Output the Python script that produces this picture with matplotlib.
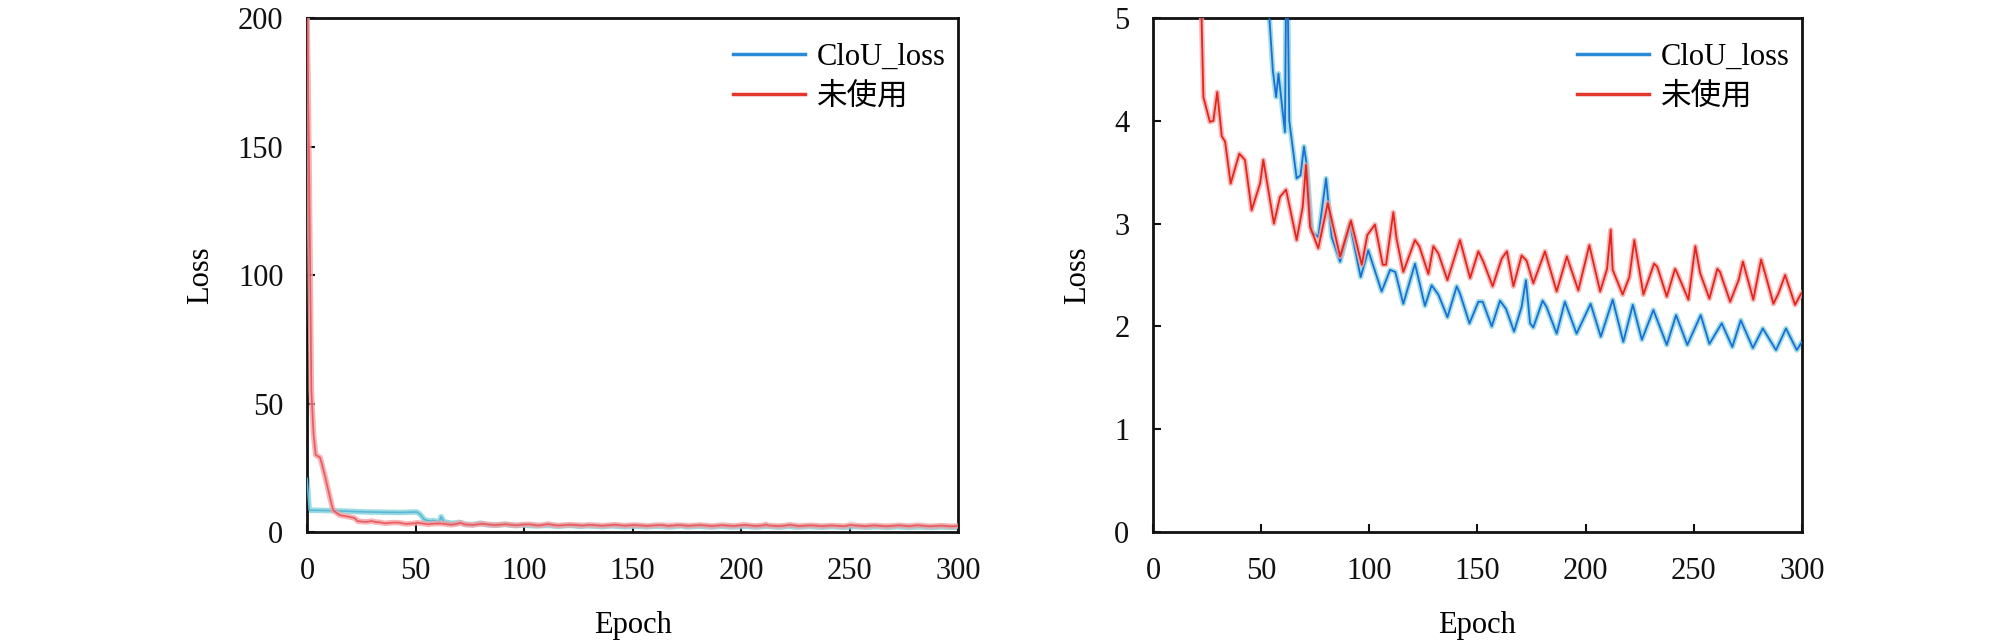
import matplotlib
matplotlib.use("Agg")
import matplotlib.pyplot as plt
from matplotlib.lines import Line2D

plt.rcParams['font.family'] = ['Liberation Serif', 'Noto Sans CJK SC', 'DejaVu Sans']

# ---- data ----
red_epoch = [0, 1, 2, 3, 4, 6, 7, 8.5, 10.5, 12, 15, 19.5, 22, 23.3, 26.3, 27.9, 29.7, 31.8,
             33.3, 35.9, 39.9, 42.5, 45.6, 49.5, 51, 55.9, 58.7, 61.5, 66.4, 69.2, 70.7, 72.6,
             76.4, 80.8, 86.5, 91.5, 96.5, 99.1, 102.6, 106.2, 107.7, 111.1, 112.6, 115.7,
             121.1, 123.1, 127.3, 129.6, 131.9, 136.1, 141.9, 146.6, 150.4, 152.7, 157.0,
             161.2, 163.6, 166.6, 170.4, 172.7, 175.8, 181.2, 186.6, 191.3, 196.6, 201.7,
             206.7, 209.9, 211.6, 212.5, 217.1, 220.2, 222.5, 226.7, 231.6, 233.1, 237.5,
             241.3, 242.1, 247.5, 250.7, 252.9, 257.2, 260.9, 262.1, 266.8, 270.7, 272.7,
             277.5, 281.1, 282.9, 286.8, 289.1, 292.2, 296.8, 299.1, 300]
red_loss = [205, 140, 55, 38, 30, 29, 26, 21, 13.7, 8.5, 6.6, 5.9, 5.4, 4.23, 3.99, 4.0, 4.28, 3.85,
            3.80, 3.39, 3.68, 3.62, 3.13, 3.39, 3.62, 3.0, 3.26, 3.33, 2.84, 3.16, 3.57, 2.97,
            2.76, 3.20, 2.68, 3.03, 2.60, 2.89, 2.99, 2.60, 2.60, 3.11, 2.85, 2.53,
            2.84, 2.78, 2.51, 2.78, 2.71, 2.45, 2.84, 2.47, 2.73, 2.63, 2.39,
            2.66, 2.73, 2.39, 2.69, 2.64, 2.42, 2.73, 2.34, 2.68, 2.35, 2.79,
            2.34, 2.56, 2.94, 2.55, 2.31, 2.48, 2.84, 2.31, 2.61, 2.58, 2.29,
            2.56, 2.53, 2.26, 2.78, 2.52, 2.27, 2.56, 2.53, 2.24, 2.45, 2.63,
            2.26, 2.65, 2.52, 2.22, 2.32, 2.50, 2.21, 2.30, 2.33]

blue_epoch = [0, 1, 12, 27.5, 43, 50.5, 52, 53, 53.8, 55.4, 56.9, 58.0, 61.0, 61.8, 63.0, 66.4,
              68.2, 69.8, 71.0, 73.4, 76.4, 80.0, 82.6, 86.5, 91.0, 96.0, 99.5, 105.7, 109.6,
              112, 115.7, 121.1, 125.7, 128.8, 131.9, 136.1, 140.4, 141.9, 146.3, 150.4, 152.4,
              156.6, 160.4, 163.2, 166.9, 170.4, 172.4, 174.3, 175.8, 180.1, 181.9, 186.6,
              190.4, 195.8, 202.3, 207.0, 212.5, 217.4, 221.8, 226.0, 231.3, 237.5, 241.8,
              247.0, 253.2, 257.2, 262.9, 267.8, 271.7, 277.3, 281.9, 288.0, 292.6, 297.6, 300]
blue_loss = [21, 8.5, 8.3, 7.8, 7.6, 7.8, 7.0, 6.0, 5.0, 4.49, 4.23, 4.46, 3.89, 6.0, 4.0, 3.44,
             3.47, 3.75, 3.58, 2.92, 2.87, 3.44, 2.87, 2.63, 3.0, 2.48, 2.74, 2.34, 2.55,
             2.53, 2.22, 2.61, 2.20, 2.40, 2.31, 2.09, 2.39, 2.32, 2.03, 2.24, 2.24,
             2.0, 2.25, 2.17, 1.95, 2.19, 2.45, 2.03, 1.99, 2.25, 2.19, 1.93,
             2.24, 1.93, 2.22, 1.90, 2.26, 1.85, 2.21, 1.87, 2.16, 1.82, 2.11,
             1.82, 2.11, 1.83, 2.03, 1.80, 2.06, 1.79, 1.98, 1.77, 1.98, 1.77, 1.85]

labels = ['CloU_loss', '未使用']
x_ticks = [0, 50, 100, 150, 200, 250, 300]
left_yticks = [0, 50, 100, 150, 200]
right_yticks = [0, 1, 2, 3, 4, 5]

# ---- styles ----
blue_core, blue_halo = '#1a6fd6', '#84d3dc'
red_core, red_halo = '#e2261c', '#f4a2a4'
tick_fs = 22
label_fs = 22

fig = plt.figure(figsize=(20.08, 6.43), dpi=100)
ax1 = fig.add_axes([0.1529, 0.1726, 0.3242, 0.7994])
ax2 = fig.add_axes([0.5742, 0.1726, 0.3232, 0.7994])


def draw(ax, ylim, yticks, left_panel):
    kw = dict(solid_joinstyle='round', solid_capstyle='round')
    if left_panel:
        ax.plot(blue_epoch, blue_loss, color=blue_halo, lw=4.0, alpha=0.8, zorder=2, **kw)
        ax.plot(blue_epoch, blue_loss, color='#5ab8d6', lw=1.2, zorder=3, **kw)
        ax.plot(red_epoch, red_loss, color=red_halo, lw=4.0, alpha=0.8, zorder=4, **kw)
        ax.plot(red_epoch, red_loss, color='#ea5a5e', lw=1.2, zorder=5, **kw)
    else:
        ax.plot(blue_epoch, blue_loss, color=blue_halo, lw=3.8, alpha=0.75, zorder=2, **kw)
        ax.plot(blue_epoch, blue_loss, color=blue_core, lw=1.3, zorder=3, **kw)
        ax.plot(red_epoch, red_loss, color=red_halo, lw=3.8, alpha=0.75, zorder=4, **kw)
        ax.plot(red_epoch, red_loss, color=red_core, lw=1.3, zorder=5, **kw)
    ax.set_xlim(0, 300)
    ax.set_ylim(*ylim)
    ax.set_xticks(x_ticks)
    ax.set_yticks(yticks)
    ax.tick_params(direction='in', length=6, width=1.5, labelsize=tick_fs,
                   colors='#111111')
    ax.tick_params(axis='y', pad=17)
    ax.tick_params(axis='x', pad=18)
    for s in ax.spines.values():
        s.set_linewidth(2.0)
        s.set_color('#111111')
    ax.set_xlabel('Epoch', fontsize=label_fs, labelpad=18)
    ax.set_ylabel('Loss', fontsize=label_fs, labelpad=16)
    handles = [Line2D([], [], color='#2a8ad8', lw=2.5),
               Line2D([], [], color='#e3362c', lw=2.5)]
    ax.legend(handles, labels, loc='upper right', frameon=False, fontsize=label_fs,
              handlelength=2.35, handletextpad=0.4, labelspacing=0.35,
              borderaxespad=0.0, bbox_to_anchor=(1.0, 0.975))


draw(ax1, (0, 200), left_yticks, True)
draw(ax2, (0, 5), right_yticks, False)

fig.savefig('out.png', dpi=100)
